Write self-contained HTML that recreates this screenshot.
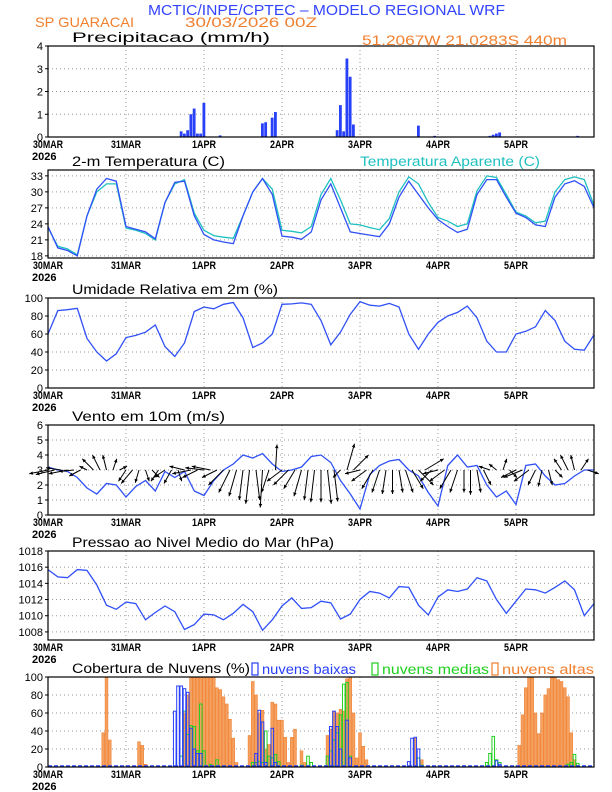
<!DOCTYPE html>
<html><head><meta charset="utf-8"><style>
html,body{margin:0;padding:0;background:#fff}
svg{display:block;font-family:"Liberation Sans",sans-serif}
</style></head><body>
<svg id="c" width="612" height="792" viewBox="0 0 612 792">
<rect width="612" height="792" fill="#fff"/>
<text x="148" y="15" font-size="15" fill="#3344ff" textLength="357" lengthAdjust="spacingAndGlyphs">MCTIC/INPE/CPTEC – MODELO REGIONAL WRF</text>
<text x="35" y="27" font-size="14" fill="#f08030" textLength="99" lengthAdjust="spacingAndGlyphs">SP GUARACAI</text>
<text x="185" y="27" font-size="14" fill="#f08030" textLength="132" lengthAdjust="spacingAndGlyphs">30/03/2026 00Z</text>
<text x="362" y="45" font-size="14" fill="#f08030" textLength="205" lengthAdjust="spacingAndGlyphs">51.2067W 21.0283S 440m</text>
</svg>
<script>
const dayLabels=["30MAR","31MAR","1APR","2APR","3APR","4APR","5APR"];
const precipHours=[41,42,43,44,45,46,47,48,53,66,67,69,70,89,90,91,92,93,94,114,119,136,137,138,139,163];
const precipVals=[0.25,0.15,0.3,1.0,1.25,0.15,0.15,1.5,0.07,0.6,0.65,0.85,1.1,0.3,1.4,0.25,3.45,2.65,0.55,0.5,0.05,0.05,0.1,0.15,0.2,0.05];
const tempVals=[23.5,19.5,19.0,18.0,25.5,30.5,32.5,32.0,23.5,23.0,22.5,21.2,28.0,31.8,32.0,25.5,22.0,21.0,20.6,20.3,25.5,30.0,32.5,29.5,21.7,21.5,21.1,22.5,28.5,31.5,27.0,22.5,22.2,21.9,21.6,24.0,29.0,32.0,29.5,27.0,24.8,23.5,22.4,23.0,29.5,32.3,32.3,29.0,26.0,25.2,23.8,23.5,29.0,31.5,32.1,31.0,27.0];
const apparentVals=[23.3,19.8,19.3,18.2,25.5,30.0,31.5,31.5,23.2,22.8,22.2,21.0,28.0,31.5,32.3,26.0,22.8,21.8,21.5,21.3,25.5,30.0,32.5,30.5,22.8,22.6,22.3,23.5,29.5,32.5,28.5,24.0,23.8,23.3,22.9,25.0,30.0,32.8,31.5,28.0,25.2,24.5,23.5,24.0,30.2,33.0,32.7,29.5,26.2,25.5,24.2,24.5,30.0,32.3,32.8,32.3,27.5];
const rhVals=[60,86,87,88.5,55,40,30,38,56,58.5,62,70,46,35,50,85,90,88,93,95,78,45,50,60,93,93.5,94.5,93,75,48,62,82,96,92,91,94,90,60,43,60,73,80,84,91,78,52,40,40,60,63,68,86,75,52,43,42,59];
const windVals=[3.2,3.0,2.9,2.5,1.8,1.4,2.1,2.0,1.2,1.9,2.3,1.6,2.9,2.5,2.9,1.6,1.3,2.3,3.0,3.4,4.0,3.8,4.1,3.4,2.9,3.0,3.2,3.9,4.0,3.5,2.3,1.4,0.4,2.7,3.3,3.6,3.7,3.0,2.6,1.5,0.6,3.3,4.0,3.2,3.3,2.0,1.2,1.6,0.7,3.3,3.4,2.6,2.0,2.1,2.6,3.0,3.0];
const windU=[-2.5,-2.5,-2,-2.5,-2,-1.5,-1,-1.5,-1,-0.5,0.5,1,-1,-1.5,-0.5,0.5,1,-1,-1.5,-1,0.5,-2,-2.5,-2,-2.5,-2.5,-2,-2,-1.5,-1,-0.5,-0.5,0.5,-0.3,-1,0.2,-2,-2,-1.5,-1,-0.5,-0.5,0,0.5,0.5,-1,1,2,-2,-2,-1.5,-1,-0.5,0,0.5,1,1.5,2,2.5,-1.5,-2,-2,-1.5,-1,0,0,0.5,1,-1.5,-1,0.5,1,-2,-2.5,-2,-1,-0.5,0.5,1,-1,-1,-0.5,1,1.5,0];
const windV=[-0.5,-0.6,0.3,-0.5,-0.2,-0.8,0.5,1.5,2,2,1.5,0.5,-1.5,-1.8,-1.7,-1.5,-1,-1.5,-1,-1.8,-1.5,0.5,-0.5,-1,0.3,0.5,-1,-2,-3,-3.5,-4,-4.5,-4,-5,-3,3.4,-1.5,-2,-2.5,-3.5,-4,-4.3,-4.3,-4.5,-4.2,-1,3.5,2,-0.5,-1.5,-2.5,-3,-3.2,-3.2,-3,-3,-2.5,-2,1.5,-1.5,-0.5,-1.5,-2.5,-3,-3,-3.3,-3,-2,0.5,0.8,1.5,-1,-1,-1,-1.5,-2,-2.2,-2,-1,1.5,2,2,1.5,-0.5,0];
const pressVals=[1015.7,1014.8,1014.7,1015.7,1015.6,1013.8,1011.3,1010.8,1011.7,1011.5,1009.5,1010.4,1011.2,1010.5,1008.3,1008.9,1010.2,1010.1,1009.5,1010.3,1011.4,1010.5,1008.2,1009.5,1011.2,1012.2,1010.9,1011.0,1011.8,1011.6,1009.6,1010.2,1012.0,1013.0,1012.8,1012.2,1013.6,1013.5,1011.3,1010.1,1012.3,1013.2,1013.0,1013.3,1014.7,1014.3,1012.0,1010.3,1011.8,1013.3,1013.2,1012.8,1013.5,1014.3,1013.2,1010.0,1011.5];
const highHours=[17,18,19,28,29,30,42,43,44,45,46,47,48,49,50,51,52,53,54,55,56,57,58,62,63,64,65,66,67,68,69,70,71,72,73,74,75,76,78,79,86,87,88,89,90,91,92,93,94,95,96,97,98,113,115,145,146,147,148,149,150,151,152,153,154,155,156,157,158,159,160,161,162,163];
const highVals=[38,100,30,28,24,3,60,80,100,100,100,100,100,100,100,100,88,86,78,70,53,32,5,35,95,80,60,63,20,25,72,70,52,52,33,5,33,42,18,5,35,42,62,60,64,62,98,100,60,10,38,23,8,32,8,24,58,88,100,100,60,37,60,80,87,100,100,97,95,88,78,38,8,2];
const lowHours=[39,40,41,42,43,44,45,46,47,64,65,66,67,69,70,87,88,89,90,92,93,111,112,113,114,138,139];
const lowVals=[62,90,90,87,83,43,20,15,15,15,63,50,5,43,5,45,62,45,20,52,10,6,32,33,20,7,3];
const midHours=[41,42,43,44,45,46,47,48,50,52,54,63,64,65,66,67,68,69,70,71,78,80,81,86,87,88,89,90,91,92,93,114,115,135,136,137,138,139,160,161,162,163];
const midVals=[12,62,36,46,45,18,70,18,3,8,1,5,5,6,5,40,12,10,14,6,2,12,5,12,18,30,38,58,92,94,12,10,2,5,15,34,8,5,3,5,14,4];
const precipTicks=[0,1,2,3,4];
const tempTicks=[18,21,24,27,30,33];
const pctTicks=[0,20,40,60,80,100];
const windTicks=[0,1,2,3,4,5,6];
const pressTicks=[1008,1010,1012,1014,1016,1018];

const S=document.getElementById('c'),NS='http://www.w3.org/2000/svg';
const X0=48,X1=594,HT=168;
const xh=h=>X0+h*(X1-X0)/HT;
function mk(tag,at,parent){const e=document.createElementNS(NS,tag);for(const k in at)e.setAttribute(k,at[k]);(parent||S).appendChild(e);return e;}
function panel(name,top,bot,ymin,ymax,ticks,title,tlen){
  const g=mk('g',{});
  
  
  const ys=v=>bot-(v-ymin)/(ymax-ymin)*(bot-top);
  for(let d=1;d<7;d++){const l=mk('line',{x1:xh(d*24),x2:xh(d*24),y1:top,y2:bot,stroke:'#999','stroke-dasharray':'1,3','stroke-width':1},g);
    }
  ticks.forEach(t=>{const y=ys(t);
    const l=mk('line',{x1:X0,x2:X1,y1:y,y2:y,stroke:'#999','stroke-dasharray':'1,3'},g);
    
    const tx=mk('text',{x:43,y:y+4,'text-anchor':'end','font-size':11},g);tx.textContent=t;
    
    mk('line',{x1:X0-3,x2:X0,y1:y,y2:y,stroke:'#000'},g);});
  dayLabels.forEach((d,i)=>{const tx=mk('text',{x:xh(i*24),y:bot+11,'text-anchor':'middle','font-size':11,'font-weight':'bold','textLength':d.length>4?30:24,'lengthAdjust':'spacingAndGlyphs'},g);tx.textContent=d;
    });
  const yr=mk('text',{x:32,y:bot+23,'font-size':11,'font-weight':'bold'},g);yr.textContent='2026';
  
  const tt=mk('text',{x:72,y:top-4,'font-size':13.5,textLength:tlen,lengthAdjust:'spacingAndGlyphs'},g);tt.textContent=title;
  
  return {g,ys,top,bot};
}
function frame(p){const r=mk('rect',{x:X0,y:p.top,width:X1-X0,height:p.bot-p.top,fill:'none',stroke:'#000','stroke-width':1.2},p.g);
  }
function line(p,vals,color,name){const pts=vals.map((v,i)=>xh(i*3).toFixed(1)+','+p.ys(v).toFixed(1)).join(' ');
  const l=mk('polyline',{points:pts,fill:'none',stroke:color,'stroke-width':1.3},p.g);
  }

const p1=panel('precip',46,137,0,4,precipTicks,'Precipitacao (mm/h)',198);
precipHours.forEach((h,i)=>{const y=p1.ys(precipVals[i]);const b=mk('rect',{x:xh(h)-1.5,y:y,width:2.8,height:p1.bot-y,fill:'#2840f8'},p1.g);
  });
frame(p1);

const p2=panel('temperature',170,258,17.6,34.1,tempTicks,'2-m Temperatura (C)',153);
const ta=mk('text',{x:360,y:166,'font-size':13.5,fill:'#20c0c0',textLength:180,lengthAdjust:'spacingAndGlyphs'},p2.g);ta.textContent='Temperatura Aparente (C)';

line(p2,apparentVals,'#20c0c0','apparent-temp-line');
line(p2,tempVals,'#3050f8','temp-line');
frame(p2);

const p3=panel('humidity',298,388,0,100,pctTicks,'Umidade Relativa em 2m (%)',206);
line(p3,rhVals,'#3050f8','rh-line');frame(p3);

const p4=panel('wind',425,515,0,6,windTicks,'Vento em 10m (m/s)',153);
line(p4,windVals,'#3050f8','wind-speed-line');
const base=p4.ys(3),sc=7.5;
windU.forEach((u,i)=>{const v=windV[i];if(u===0&&v===0)return;const x=xh(i*2),ex=x+u*sc,ey=base-v*sc;
  const a=mk('g',{},p4.g);
  
  
  mk('line',{x1:x,y1:base,x2:ex,y2:ey,stroke:'#000','stroke-width':1},a);
  const ang=Math.atan2(ey-base,ex-x),L=4;
  const p=[[ex,ey],[ex-L*Math.cos(ang-0.45),ey-L*Math.sin(ang-0.45)],[ex-L*Math.cos(ang+0.45),ey-L*Math.sin(ang+0.45)]];
  mk('polygon',{points:p.map(q=>q.join(',')).join(' '),fill:'#000'},a);});
frame(p4);

const p5=panel('pressure',551,640,1007,1018,pressTicks,'Pressao ao Nivel Medio do Mar (hPa)',262);
line(p5,pressVals,'#3050f8','pressure-line');frame(p5);

const p6=panel('clouds',677,767,0,100,pctTicks,'Cobertura de Nuvens (%)',178);
[['nuvens baixas','#2840f8',252,94],['nuvens medias','#20d020',372,107],['nuvens altas','#f08030',492,92]].forEach(([t,c,x,w])=>{
  const g=mk('g',{},p6.g);
  
  
  mk('rect',{x:x,y:663,width:6,height:12,fill:'none',stroke:c,'stroke-width':1.2},g);
  const tx=mk('text',{x:x+10,y:674,'font-size':13.5,fill:c,textLength:w,lengthAdjust:'spacingAndGlyphs'},g);tx.textContent=t;});
highHours.forEach((h,i)=>{const y=p6.ys(highVals[i]);const b=mk('rect',{x:xh(h)-1.4,y:y,width:2.8,height:p6.bot-y,fill:'#f4a060',stroke:'#f08030','stroke-width':0.6},p6.g);
  });
midHours.forEach((h,i)=>{const y=p6.ys(midVals[i]);const b=mk('rect',{x:xh(h)-1.3,y:y,width:2.6,height:p6.bot-y,fill:'none',stroke:'#20d020','stroke-width':1},p6.g);
  });
lowHours.forEach((h,i)=>{const y=p6.ys(lowVals[i]);const b=mk('rect',{x:xh(h)-1.3,y:y,width:2.6,height:p6.bot-y,fill:'none',stroke:'#2840f8','stroke-width':1},p6.g);
  });
const bl=mk('line',{x1:X0,x2:X1,y1:p6.bot-1,y2:p6.bot-1,stroke:'#2840f8','stroke-width':1.5,'stroke-dasharray':'4,2'},p6.g);

frame(p6);
</script>
</body></html>
